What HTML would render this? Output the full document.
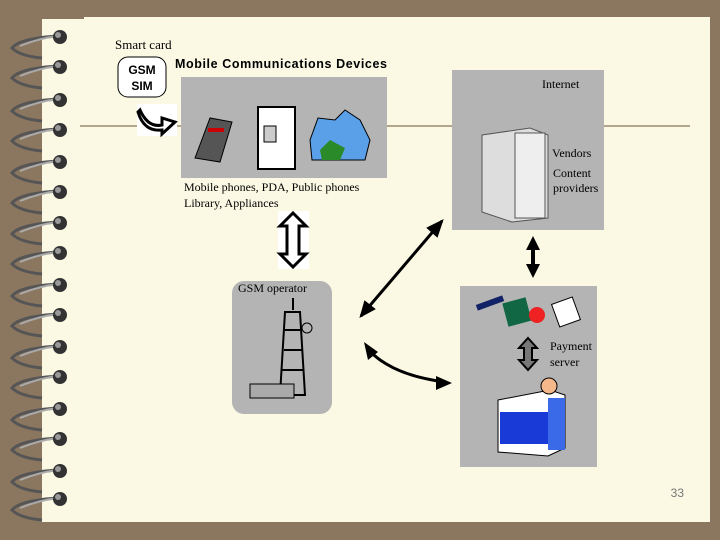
<!DOCTYPE html>
<html><head><style>body{margin:0;background:#8b7660;}svg{display:block}</style></head><body>
<svg width="720" height="540" xmlns="http://www.w3.org/2000/svg" font-family="Liberation Serif, serif">
<rect width="720" height="540" fill="#8b7660"/>
<rect x="42" y="19" width="668" height="503" fill="#fbf9e4"/>
<rect x="84" y="17" width="626" height="4" fill="#fbf9e4"/>
<g>
<!-- spiral rings -->
<g id="r"><path d="M60 36 Q20 38 12 48 Q20 56 42 58" fill="none" stroke="#555" stroke-width="3"/><path d="M20 46 Q40 38 58 36" stroke="#aaa" stroke-width="2" fill="none"/><circle cx="60" cy="37" r="7" fill="#333"/><circle cx="58" cy="35" r="3" fill="#999"/></g>
<use href="#r" y="30"/><use href="#r" y="63"/><use href="#r" y="93"/><use href="#r" y="125"/><use href="#r" y="155"/><use href="#r" y="186"/><use href="#r" y="216"/><use href="#r" y="248"/><use href="#r" y="278"/><use href="#r" y="310"/><use href="#r" y="340"/><use href="#r" y="372"/><use href="#r" y="402"/><use href="#r" y="434"/><use href="#r" y="462"/>
</g>
<line x1="80" y1="126" x2="690" y2="126" stroke="#9b8a70" stroke-width="1.5"/>
<text x="115" y="49" font-size="13">Smart card</text>
<rect x="118" y="57" width="48" height="40" rx="10" fill="#fff" stroke="#000"/>
<text x="142" y="74" font-size="12" font-family="Liberation Sans,sans-serif" font-weight="bold" text-anchor="middle">GSM</text>
<text x="142" y="90" font-size="12" font-family="Liberation Sans,sans-serif" font-weight="bold" text-anchor="middle">SIM</text>
<text x="175" y="68" font-size="12.5" font-family="Liberation Sans,sans-serif" font-weight="bold" letter-spacing="0.6">Mobile Communications Devices</text>
<rect x="137" y="104" width="40" height="32" fill="#fff"/>
<path d="M140 110 Q148 128 162 125 L162 118 L175 122 L162 134 L162 130 Q144 132 138 112Z" fill="#fff" stroke="#000" stroke-width="3"/>
<rect x="181" y="77" width="206" height="101" fill="#b4b4b4"/>
<path d="M195 158 L210 118 L232 122 L220 162Z" fill="#555" stroke="#000"/><rect x="208" y="128" width="16" height="4" fill="#c00"/>
<rect x="258" y="107" width="37" height="62" fill="#fff" stroke="#000" stroke-width="2"/><rect x="264" y="126" width="12" height="16" fill="#ccc" stroke="#000"/>
<path d="M310 140 L318 118 L335 120 L345 110 L360 120 L370 140 L365 160 L312 160Z" fill="#5aa0e8" stroke="#000"/><path d="M320 150 L330 140 L345 148 L340 160 L322 160Z" fill="#2a8a2a"/>
<text x="184" y="191" font-size="12">Mobile phones, PDA, Public phones</text>
<text x="184" y="207" font-size="12">Library, Appliances</text>
<rect x="278" y="211" width="31" height="58" fill="#fff"/>
<path d="M293 213 L306 226 L299 226 L299 254 L306 254 L293 267 L280 254 L287 254 L287 226 L280 226Z" fill="#fff" stroke="#000" stroke-width="3"/>
<rect x="452" y="70" width="152" height="160" fill="#b4b4b4"/>
<text x="542" y="88" font-size="12">Internet</text>
<path d="M482 135 L530 128 L548 135 L548 218 L512 222 L482 212Z" fill="#ddd" stroke="#555"/><rect x="515" y="133" width="30" height="85" fill="#eee" stroke="#555"/>
<text x="552" y="157" font-size="12">Vendors</text>
<text x="553" y="177" font-size="12">Content</text>
<text x="553" y="192" font-size="12">providers</text>
<rect x="232" y="281" width="100" height="133" rx="12" fill="#b4b4b4"/>
<text x="238" y="292" font-size="12">GSM operator</text>
<path d="M293 298 L293 310 M285 312 L300 312 L305 395 L280 395Z M285 330 L300 330 M284 350 L302 350 M282 370 L303 370" fill="none" stroke="#000" stroke-width="2"/>
<rect x="250" y="384" width="44" height="14" fill="#aaa" stroke="#000"/><circle cx="307" cy="328" r="5" fill="none" stroke="#000"/>
<rect x="460" y="286" width="137" height="181" fill="#b4b4b4"/>
<rect x="476" y="300" width="28" height="6" fill="#126" transform="rotate(-20 490 303)"/>
<rect x="505" y="300" width="24" height="24" fill="#164" transform="rotate(-15 517 312)"/><circle cx="537" cy="315" r="8" fill="#e22"/><rect x="555" y="300" width="22" height="24" fill="#fff" stroke="#000" transform="rotate(-20 566 312)"/>
<path d="M528 338 L537 348 L532 348 L532 360 L537 360 L528 370 L519 360 L524 360 L524 348 L519 348Z" fill="#777" stroke="#000" stroke-width="2"/>
<text x="550" y="350" font-size="12">Payment</text>
<text x="550" y="366" font-size="12">server</text>
<path d="M498 400 L550 390 L565 395 L565 448 L548 456 L498 452Z" fill="#fff" stroke="#000"/>
<rect x="500" y="412" width="48" height="32" fill="#1a3ad8"/><rect x="548" y="398" width="17" height="52" fill="#3a6ae8"/>
<circle cx="549" cy="386" r="8" fill="#f5b88a" stroke="#000"/>
<path d="M361 316 L442 221" stroke="#000" stroke-width="3"/><path d="M442 221 L428 228 L437 236Z M361 316 L365 302 L374 309Z" fill="#000" stroke="#000" stroke-width="2"/>
<path d="M367 348 Q390 375 445 382" stroke="#000" stroke-width="3" fill="none"/><path d="M364 342 L378 352 L368 360Z M452 383 L436 376 L436 390Z" fill="#000"/>
<path d="M533 236 L540 250 L535 250 L535 264 L540 264 L533 278 L526 264 L531 264 L531 250 L526 250Z" fill="#000"/>
<text x="684" y="497" font-size="12" fill="#777" text-anchor="end" font-family="Liberation Sans,sans-serif">33</text>
</svg>
</body></html>
